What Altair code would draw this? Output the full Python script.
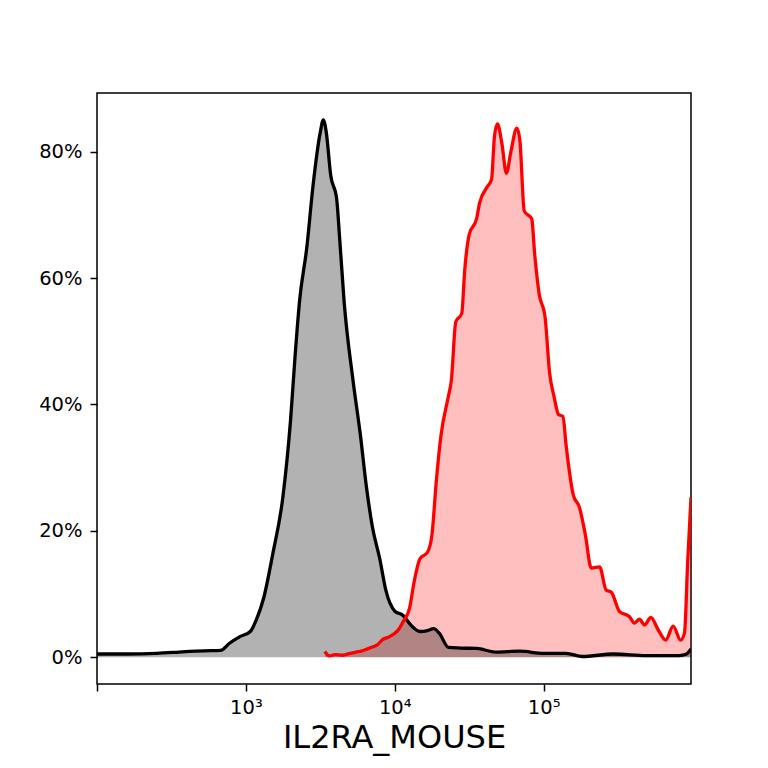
import altair as alt
import pandas as pd

# log10 of intensity and percent of max for each series
black_lx = [2.00, 2.20, 2.40, 2.55, 2.62, 2.72, 2.83, 2.89, 2.96, 3.03, 3.07, 3.12, 3.18, 3.25,
            3.30, 3.33, 3.36, 3.41, 3.45, 3.50, 3.52, 3.54, 3.57, 3.61, 3.63, 3.66, 3.72, 3.77,
            3.81, 3.85, 3.90, 3.94, 4.00, 4.056, 4.10, 4.17, 4.22, 4.26, 4.30, 4.36, 4.44, 4.55,
            4.68, 4.84, 5.00, 5.15, 5.26, 5.47, 5.69, 5.91, 5.96, 5.99]
black_y = [0.5, 0.5, 0.6, 0.8, 0.9, 1.0, 1.06, 2.2, 3.25, 4.06, 5.9, 9.4, 16.25, 25.6,
           37.5, 47.5, 56.25, 65.0, 74.4, 83.1, 85.06, 83.1, 76.25, 72.5, 66.25, 56.25, 43.75, 35.0,
           26.9, 20.6, 15.5, 10.6, 7.3, 6.6, 5.3, 4.06, 4.2, 4.5, 3.75, 1.56, 1.44, 1.375,
           0.8, 0.94, 0.6, 0.6, 0.1, 0.5, 0.25, 0.25, 0.5, 1.3]

red_lx = [3.53, 3.56, 3.60, 3.65, 3.70, 3.74, 3.78, 3.81, 3.85, 3.88, 3.92, 3.96, 3.99, 4.03,
          4.056, 4.10, 4.13, 4.17, 4.22, 4.25, 4.28, 4.31, 4.36, 4.38, 4.41, 4.45, 4.47, 4.50,
          4.55, 4.57, 4.62, 4.65, 4.67, 4.69, 4.72, 4.75, 4.78, 4.82, 4.84, 4.87, 4.92, 4.94,
          4.97, 5.01, 5.04, 5.07, 5.10, 5.13, 5.15, 5.20, 5.24, 5.28, 5.32, 5.376, 5.42, 5.454,
          5.51, 5.577, 5.61, 5.644, 5.678, 5.72, 5.77, 5.82, 5.87, 5.92, 5.946, 5.968, 5.99]
red_y = [0.9, 0.2, 0.4, 0.3, 0.6, 0.8, 1.0, 1.25, 1.6, 1.9, 2.8, 3.2, 3.6, 4.5,
         5.6, 7.8, 11.9, 15.6, 16.6, 19.4, 28.1, 35.0, 41.25, 43.75, 53.1, 54.4, 61.25, 66.9,
         69.4, 71.9, 74.4, 75.6, 82.5, 84.4, 81.25, 76.6, 80.0, 83.75, 81.9, 70.6, 69.4, 63.75,
         57.5, 53.75, 45.0, 41.25, 38.4, 38.1, 33.75, 25.6, 23.75, 19.4, 14.1, 14.3, 10.6, 10.3,
         7.2, 6.4, 5.4, 6.0, 5.1, 6.3, 4.3, 2.7, 4.9, 2.7, 3.8, 15.3, 25.3]

x_ticks = [100, 1000, 10000, 100000]
y_ticks = [0, 20, 40, 60, 80]

df_black = pd.DataFrame({"lx": black_lx, "pct": black_y})
df_red = pd.DataFrame({"lx": red_lx, "pct": red_y})

x_enc = alt.X(
    "v:Q",
    scale=alt.Scale(type="log", domain=[100, 977000]),
    axis=alt.Axis(
        values=x_ticks,
        labelExpr="datum.value == 1000 ? '10³' : datum.value == 10000 ? '10⁴' : datum.value == 100000 ? '10⁵' : ''",
        title="IL2RA_MOUSE",
        titleFontSize=32,
        titleFontWeight="normal",
        titlePadding=6,
        labelPadding=7,
    ),
)
y_enc = alt.Y(
    "pct:Q",
    scale=alt.Scale(domain=[-4.25, 89.3], nice=False, zero=False),
    axis=alt.Axis(values=y_ticks, labelExpr="datum.value + '%'", title=None, labelPadding=8),
)


def base(df):
    return alt.Chart(df).transform_calculate(v="pow(10, datum.lx)")


red_area = base(df_red).mark_area(color="red", opacity=0.25, interpolate="monotone", clip=True).encode(
    x=x_enc, y=y_enc, y2=alt.datum(0)
)
black_area = base(df_black).mark_area(color="black", opacity=0.3, interpolate="monotone", clip=True).encode(
    x=x_enc, y=y_enc, y2=alt.datum(0)
)
black_line = base(df_black).mark_line(color="black", strokeWidth=3.3, interpolate="monotone", clip=True).encode(
    x=x_enc, y=y_enc
)
red_line = base(df_red).mark_line(color="red", strokeWidth=3.3, interpolate="monotone", clip=True).encode(
    x=x_enc, y=y_enc
)

chart = (
    alt.layer(red_area, black_area, black_line, red_line)
    .properties(
        width=594,
        height=591,
        autosize=alt.AutoSizeParams(type="none"),
        padding={"left": 89, "top": 85, "right": 69, "bottom": 76},
    )
    .configure_view(stroke="black", strokeWidth=1.5)
    .configure_axis(
        grid=False,
        domain=False,
        ticks=True,
        tickColor="black",
        tickWidth=1.5,
        tickSize=7,
        labelFont="DejaVu Sans",
        labelFontSize=19.5,
        labelColor="black",
        titleFont="DejaVu Sans",
        titleColor="black",
    )
)

chart.save("out.html", embed_options={"renderer": "svg", "actions": False})
